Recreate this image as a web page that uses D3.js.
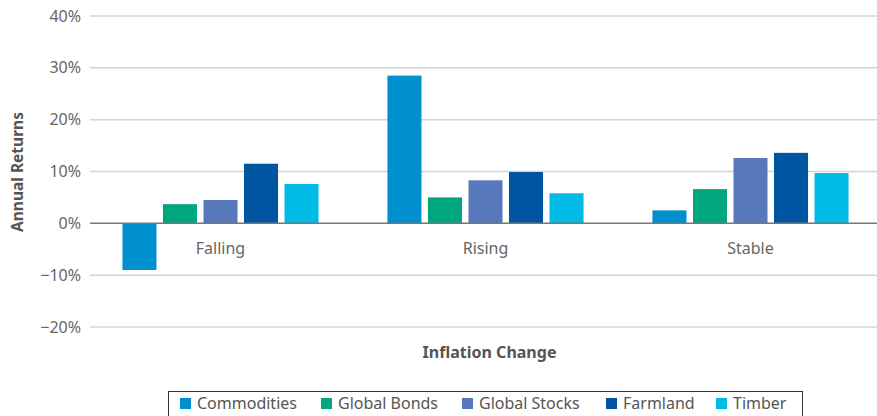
<!DOCTYPE html>
<html>
<head>
<meta charset="utf-8">
<script src="https://cdn.jsdelivr.net/npm/d3@7"></script>
<style>
  body { margin: 0; background: #fff; }
  svg { display: block; font-family: "Noto Sans", Roboto, sans-serif; }
</style>
</head>
<body>
<svg width="877" height="416"></svg>
<script>
// data
var categories = ['Falling', 'Rising', 'Stable'];
var series = ['Commodities', 'Global Bonds', 'Global Stocks', 'Farmland', 'Timber'];
var commodities = [-9.0, 28.5, 2.5];
var globalBonds = [3.7, 5.0, 6.6];
var globalStocks = [4.5, 8.3, 12.6];
var farmland = [11.5, 9.9, 13.6];
var timber = [7.6, 5.8, 9.7];
var yTicks = [-20, -10, 0, 10, 20, 30, 40];

var colors = ['#008fcf', '#00a67e', '#5878bc', '#0055a0', '#00bbe6'];
var values = [commodities, globalBonds, globalStocks, farmland, timber];

var svg = d3.select('svg');
var margin = { left: 88, right: 883, top: 16, bottom: 327 };

var x0 = d3.scaleBand().domain(categories).range([margin.left, margin.right])
	.paddingInner(0.26).paddingOuter(0.13);
var x1 = d3.scaleBand().domain(series).range([0, x0.bandwidth()]).paddingInner(0.16).paddingOuter(0);
var y = d3.scaleLinear().domain([-20, 40]).range([margin.bottom, margin.top]);
var color = d3.scaleOrdinal().domain(series).range(colors);

// gridlines
svg.append('g')
	.selectAll('line')
	.data(yTicks.filter(d => d !== 0))
	.enter()
	.append('line')
	.attr('x1', 90).attr('x2', 877)
	.attr('y1', d => y(d)).attr('y2', d => y(d))
	.attr('stroke', '#d4d4d4')
	.attr('stroke-width', 1.5);

// y tick labels
svg.append('g')
	.selectAll('text')
	.data(yTicks)
	.enter()
	.append('text')
	.attr('x', 81)
	.attr('y', d => y(d))
	.attr('dy', '0.35em')
	.attr('text-anchor', 'end')
	.attr('font-size', 16)
	.attr('fill', '#666')
	.text(d => (d < 0 ? '\u2212' + Math.abs(d) : d) + '%');

// bars
var rows = [];
categories.forEach(function(c, i) {
	series.forEach(function(s, j) {
		rows.push({ cat: c, name: s, value: values[j][i] });
	});
});

svg.append('g')
	.selectAll('rect')
	.data(rows)
	.enter()
	.append('rect')
	.attr('x', d => x0(d.cat) + x1(d.name))
	.attr('width', x1.bandwidth())
	.attr('y', d => y(Math.max(0, d.value)))
	.attr('height', d => Math.abs(y(d.value) - y(0)))
	.attr('fill', d => color(d.name));

// zero line
svg.append('line')
	.attr('x1', 90).attr('x2', 877)
	.attr('y1', y(0)).attr('y2', y(0))
	.attr('stroke', '#777')
	.attr('stroke-width', 1.5);

// category labels
svg.append('g')
	.selectAll('text')
	.data(categories)
	.enter()
	.append('text')
	.attr('x', d => x0(d) + x0.bandwidth() / 2)
	.attr('y', y(0) + 31)
	.attr('text-anchor', 'middle')
	.attr('font-size', 16)
	.attr('fill', '#666')
	.text(d => d);

// axis titles
svg.append('text')
	.attr('transform', 'translate(23,172) rotate(-90)')
	.attr('text-anchor', 'middle')
	.attr('font-size', 15.5)
	.attr('font-weight', 'bold')
	.attr('fill', '#555')
	.text('Annual Returns');

svg.append('text')
	.attr('x', (margin.left + margin.right) / 2 + 4)
	.attr('y', 358)
	.attr('text-anchor', 'middle')
	.attr('font-size', 16)
	.attr('font-weight', 'bold')
	.attr('fill', '#555')
	.text('Inflation Change');

// legend
var legendX = [180, 321, 462, 606, 716];
svg.append('rect')
	.attr('x', 168.5).attr('y', 391.5)
	.attr('width', 634).attr('height', 40)
	.attr('fill', 'none')
	.attr('stroke', '#333')
	.attr('stroke-width', 1);

var legend = svg.append('g')
	.selectAll('g')
	.data(series)
	.enter()
	.append('g')
	.attr('transform', (d, i) => 'translate(' + legendX[i] + ',398)');

legend.append('rect')
	.attr('width', 11).attr('height', 11)
	.attr('fill', d => color(d));

legend.append('text')
	.attr('x', 17)
	.attr('y', 5.5)
	.attr('dy', '0.35em')
	.attr('font-size', 16)
	.attr('fill', '#555')
	.text(d => d);
</script>
</body>
</html>
